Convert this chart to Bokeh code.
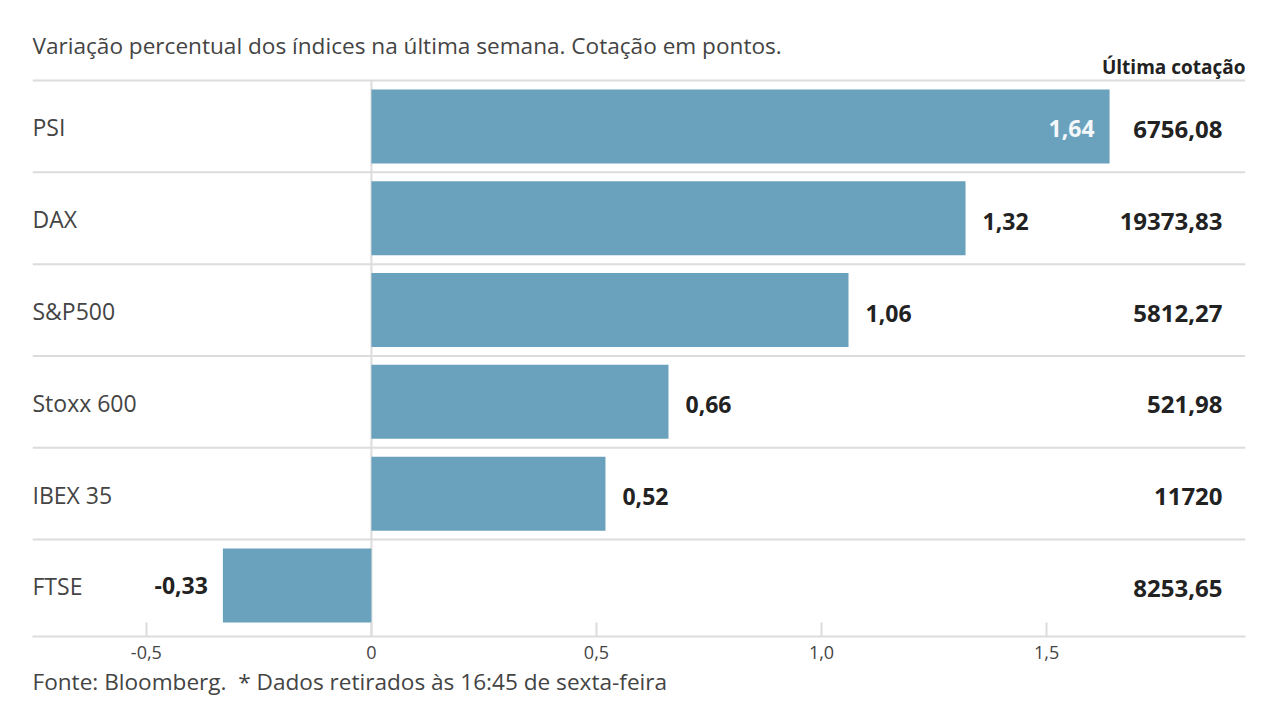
from bokeh.plotting import figure
from bokeh.models import Range1d, ColumnDataSource, Title, FixedTicker
from bokeh.core.properties import value
from bokeh.embed import file_html
from bokeh.resources import INLINE

indices = ["PSI", "DAX", "S&P500", "Stoxx 600", "IBEX 35", "FTSE"]
changes = [1.64, 1.32, 1.06, 0.66, 0.52, -0.33]
change_labels = ["1,64", "1,32", "1,06", "0,66", "0,52", "-0,33"]
last_quotes = ["6756,08", "19373,83", "5812,27", "521,98", "11720", "8253,65"]
tick_values = [-0.5, 0, 0.5, 1.0, 1.5]
tick_labels = ["-0,5", "0", "0,5", "1,0", "1,5"]

title_text = "Variação percentual dos índices na última semana. Cotação em pontos."
header_text = "Última cotação"
footer_text = "Fonte: Bloomberg.\u00a0 * Dados retirados às 16:45 de sexta-feira"

FONT = "Open Sans"
BAR_COLOR = "#6aa2bd"
GRID = "#dcdcdc"

n = len(indices)
ypos = [n - 1 - i for i in range(n)]

X0, X1 = -0.753, 1.942
Y0, Y1 = -0.556, 6.285

p = figure(width=1271, height=700, output_backend="svg", toolbar_location=None,
           x_range=Range1d(X0, X1), y_range=Range1d(Y0, Y1),
           min_border_left=32, min_border_right=26, min_border_top=8,
           min_border_bottom=64)
p.outline_line_color = None
p.xgrid.visible = False
p.ygrid.visible = False
p.yaxis.visible = False
p.background_fill_color = "white"

# separators
seps = [y + 0.5 for y in ypos]
p.segment(x0=[X0] * n, x1=[X1] * n, y0=seps, y1=seps, line_color=GRID, line_width=2)
# zero line
p.segment(x0=[0], x1=[0], y0=[Y0], y1=[n - 0.5], line_color=GRID, line_width=2)

src = ColumnDataSource(dict(y=ypos, v=changes, lab=change_labels, name=indices, q=last_quotes))
p.hbar(y="y", left=0, right="v", height=0.806, source=src, fill_color=BAR_COLOR,
       line_color=None)

# category labels
p.text(x=[X0] * n, y=ypos, text=indices, text_font=value(FONT), text_font_size="23px",
       text_color="#444444", text_align="left", text_baseline="middle", y_offset=1)

# value labels
inside = [i for i in range(n) if changes[i] >= 1.5]
pos_out = [i for i in range(n) if 0 <= changes[i] < 1.5]
neg = [i for i in range(n) if changes[i] < 0]
p.text(x=[changes[i] for i in inside], y=[ypos[i] for i in inside],
       text=[change_labels[i] for i in inside], x_offset=-15, y_offset=2,
       text_font=value(FONT), text_font_size="23px", text_font_style="bold",
       text_color="#f4f8fa", text_align="right", text_baseline="middle")
p.text(x=[changes[i] for i in pos_out], y=[ypos[i] for i in pos_out],
       text=[change_labels[i] for i in pos_out], x_offset=17, y_offset=3,
       text_font=value(FONT), text_font_size="23px", text_font_style="bold",
       text_color="#222222", text_align="left", text_baseline="middle")
p.text(x=[changes[i] for i in neg], y=[ypos[i] for i in neg],
       text=[change_labels[i] for i in neg], x_offset=-15, y_offset=0,
       text_font=value(FONT), text_font_size="23px", text_font_style="bold",
       text_color="#222222", text_align="right", text_baseline="middle")

# last quote column
QX = 1.891
p.text(x=[QX] * n, y=ypos, text=last_quotes, y_offset=3, text_font=value(FONT),
       text_font_size="24px", text_font_style="bold", text_color="#222222",
       text_align="right", text_baseline="middle")

# header and title
p.text(x=[X1], y=[5.653], text=[header_text], text_font=value(FONT),
       text_font_size="19px", text_font_style="bold", text_color="#222222",
       text_align="right", text_baseline="middle")
p.text(x=[X0], y=[5.882], text=[title_text], text_font=value(FONT),
       text_font_size="22.6px", text_color="#444444", text_align="left",
       text_baseline="middle")

# x axis
ax = p.xaxis[0]
ax.ticker = FixedTicker(ticks=tick_values)
ax.major_label_overrides = {t: l for t, l in zip(tick_values, tick_labels)}
ax.major_tick_in = 14
ax.major_tick_out = 0
ax.minor_tick_line_color = None
ax.major_tick_line_color = GRID
ax.major_tick_line_width = 2
ax.axis_line_color = GRID
ax.axis_line_width = 2
ax.major_label_text_font = FONT
ax.major_label_text_font_size = "18px"
ax.major_label_text_color = "#444444"
ax.major_label_standoff = 9

foot = Title(text=footer_text, align="left", text_font=FONT, text_font_size="22.6px",
             text_color="#444444", text_font_style="normal", offset=0, standoff=4)
p.add_layout(foot, "below")

open("out.html", "w").write(file_html(p, INLINE))
